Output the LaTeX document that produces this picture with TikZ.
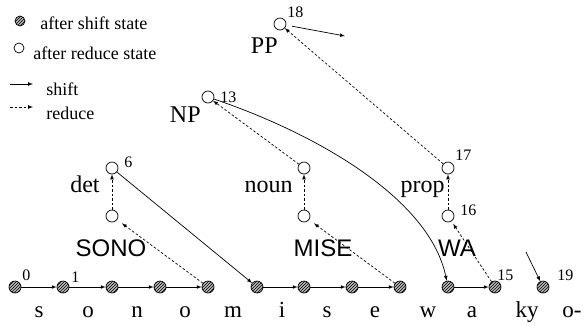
\documentclass[tikz,border=0pt]{standalone}
\usepackage{fontspec}
\setmainfont{Liberation Serif}
\setsansfont{Liberation Sans}
\usetikzlibrary{patterns}

\begin{document}
\begin{tikzpicture}[x=1pt,y=-1pt,>=latex,line width=0.7pt,
  sst/.style={circle,draw,inner sep=0pt,minimum size=12pt,fill=gray!55,postaction={pattern=north east lines}},
  rst/.style={circle,draw,inner sep=0pt,minimum size=12pt,fill=white},
  rdc/.style={->,dash pattern=on 2.5pt off 2pt},
  lg/.style={font=\fontsize{18}{18}\selectfont,inner sep=0pt,anchor=west},
  cat/.style={font=\fontsize{24}{24}\selectfont,inner sep=0pt,anchor=base east},
  num/.style={font=\fontsize{16}{16}\selectfont,inner sep=0pt,anchor=west},
  wrd/.style={font=\sffamily\fontsize{24}{24}\selectfont,inner sep=0pt,anchor=base},
  chr/.style={font=\fontsize{23}{23}\selectfont,inner sep=0pt,anchor=base}]
  \useasboundingbox (0,0) rectangle (584,325);
  % legend
  \node[sst,minimum size=10pt] (lgs) at (20,21) {};
  \node[lg] (lgst) at (40,23) {after shift state};
  \node[rst,minimum size=10pt] (lgr) at (19,48) {};
  \node[lg] (lgrt) at (33,53) {after reduce state};
  \coordinate (sha) at (10,84);
  \coordinate (shb) at (33,84);
  \draw[->] (sha)--(shb);
  \node[lg] (lgsh) at (46,89) {shift};
  \coordinate (rda) at (10,107);
  \coordinate (rdb) at (33,107);
  \draw[rdc] (rda)--(rdb);
  \node[lg] (lgrd) at (46,113) {reduce};
  % input string
  \foreach \n/\x in {0/15,1/63,2/112,3/160,4/208,5/257,6/304,7/352,8/400,9/448,10/495,11/543}
    \node[sst] (s\n) at (\x,287) {};
  \foreach \ch/\x [count=\i] in {s/39,o/88,n/137,o/185,m/233,i/282,s/327,e/375,w/428,a/472,ky/527,o-/572}
    \node[chr] (ch\i) at (\x,317) {\ch};
  \foreach \a/\b in {0/1,1/2,2/3,3/4,5/6,6/7,7/8,9/10}
    \draw[->] (s\a)--(s\b);
  \node[num] (n0) at (22,275) {0};
  \node[num] (n1) at (71,277) {1};
  \node[num] (n15) at (497,275) {15};
  \node[num] (n19) at (557,275) {19};
  % reduce states
  \node[rst] (sono) at (112,216) {};
  \node[rst] (det) at (112,168) {};
  \node[rst] (mise) at (304,216) {};
  \node[rst] (noun) at (304,168) {};
  \node[rst] (wa) at (448,216) {};
  \node[rst] (prop) at (448,168) {};
  \node[rst] (np) at (208,97) {};
  \node[rst] (pp) at (280,24) {};
  \node[wrd] (tsono) at (111,256) {SONO};
  \node[wrd] (tmise) at (323,256) {MISE};
  \node[wrd] (twa) at (457,256) {WA};
  \node[cat] (tdet) at (100,192) {det};
  \node[cat] (tnoun) at (293,192) {noun};
  \node[cat] (tprop) at (445,192) {prop};
  \node[cat] (tnp) at (201,122) {NP};
  \node[cat] (tpp) at (278,53) {PP};
  \node[num] (n6) at (124,162) {6};
  \node[num] (n13) at (220,97) {13};
  \node[num] (n16) at (460,210) {16};
  \node[num] (n17) at (455,155) {17};
  \node[num] (n18) at (287,12) {18};
  % reduce
  \draw[rdc,shorten >=6pt] (s4)--(sono);
  \draw[rdc,shorten >=6pt] (s8)--(mise);
  \draw[rdc,shorten >=3pt] (s10)--(wa);
  \draw[rdc] (sono)--(det);
  \draw[rdc] (mise)--(noun);
  \draw[rdc] (wa)--(prop);
  \draw[rdc] (noun)--(np);
  \draw[rdc] (prop)--(pp);
  % shift
  \draw[->] (det)--(s5);
  \draw[->] (np) .. controls (320,135) and (430,200) .. (s9);
  \coordinate (ppto) at (345,36);
  \draw[->,shorten <=6pt] (pp)--(ppto);
  \coordinate (kyfrom) at (526,252);
  \draw[->] (kyfrom)--(s11);
\end{tikzpicture}
\end{document}
